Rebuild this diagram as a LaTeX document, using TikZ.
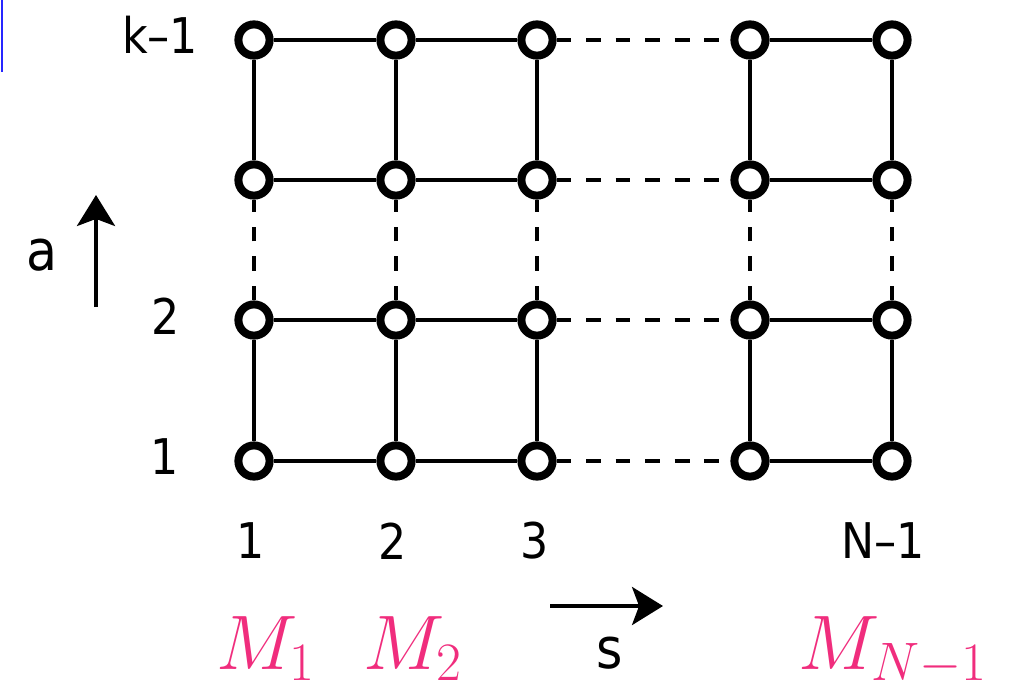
\documentclass[tikz,border=0pt]{standalone}
\usepackage{fix-cm}
\usepackage{fontspec}
\setmainfont{DejaVu Sans Condensed}
\usetikzlibrary{arrows.meta}
\definecolor{mpink}{RGB}{240,45,125}
\begin{document}
\begin{tikzpicture}[x=0.025cm,y=-0.025cm,
    site/.style={circle,draw,line width=5.7pt,fill=white,minimum size=0.78cm,inner sep=0pt},
    bond/.style={line width=3.3pt},
    gap/.style={bond,dash pattern=on 10.5pt off 10.5pt},
    dir/.style={line width=3pt,-{Stealth[length=22pt,width=27pt,inset=5pt]}},
    lbl/.style={font=\fontsize{35}{38}\selectfont},
    mlbl/.style={text=mpink,font=\fontsize{55}{60}\selectfont,anchor=base west,inner sep=0pt}]
        \useasboundingbox (0,0) rectangle (1012,692);
        \draw[blue!85!white,line width=2pt] (2,0) -- (2,72);
        \foreach \c/\x in {1/254,2/396,3/537,4/750,5/892}
            \foreach \r/\y in {1/461,2/320,3/180,4/40}
                \node[site] (s\c\r) at (\x,\y) {};
        \foreach \r in {1,...,4} {
            \draw[bond] (s1\r) -- (s2\r) -- (s3\r);
            \draw[gap] (s3\r) -- (s4\r);
            \draw[bond] (s4\r) -- (s5\r);
        }
        \foreach \c in {1,...,5} {
            \draw[bond] (s\c1) -- (s\c2);
            \draw[gap] (s\c2) -- (s\c3);
            \draw[bond] (s\c3) -- (s\c4);
        }
        \node[lbl] (rk) at (160,35) {k\textendash1};
        \node[lbl] (r2) at (166,316) {2};
        \node[lbl] (r1) at (165,457) {1};
        \node[lbl] (c1) at (251,541) {1};
        \node[lbl] (c2) at (393,541) {2};
        \node[lbl] (c3) at (535,541) {3};
        \node[lbl] (cn) at (883,541) {N\textendash1};
        \coordinate (abot) at (96,307);
        \coordinate (atop) at (96,195);
        \draw[dir] (abot) -- (atop);
        \node[lbl,font=\fontsize{40}{44}\selectfont] (a) at (42,255) {a};
        \coordinate (sleft) at (550,606);
        \coordinate (sright) at (663,606);
        \draw[dir] (sleft) -- (sright);
        \node[lbl,font=\fontsize{40}{44}\selectfont] (s) at (610,653) {s};
        \node[mlbl] (m1) at (216,669) {$M_1$};
        \node[mlbl] (m2) at (363,669) {$M_2$};
        \node[mlbl] (mn) at (798,669) {$M_{N-1}$};
    \end{tikzpicture}
\end{document}
